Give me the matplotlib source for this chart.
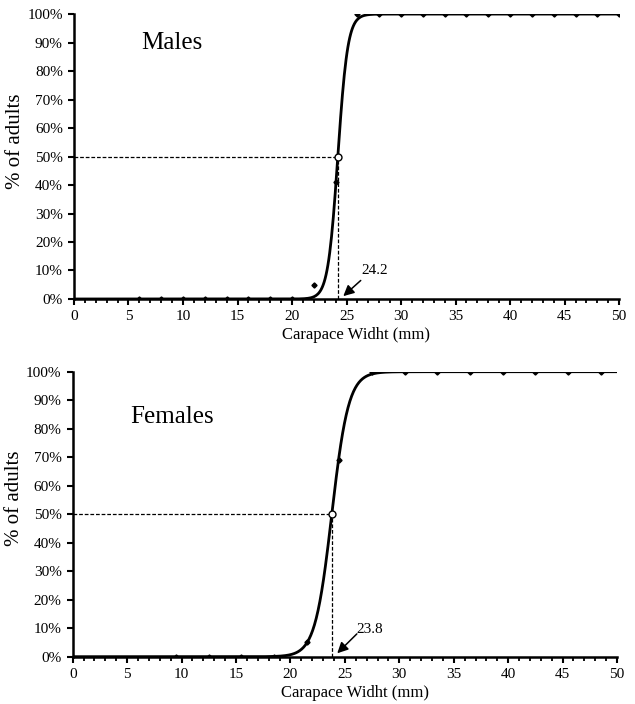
import numpy as np
import matplotlib.pyplot as plt
from matplotlib.ticker import MultipleLocator, PercentFormatter

plt.rcParams['font.family'] = ['Liberation Serif', 'DejaVu Serif']

# ---- data ----
male_x = [6, 8, 10, 12, 14, 16, 18, 20, 22, 24, 26, 28, 30, 32, 34, 36, 38, 40, 42, 44, 46, 48, 50]
male_y = [0, 0, 0, 0, 0, 0, 0, 0, 5, 41, 100, 100, 100, 100, 100, 100, 100, 100, 100, 100, 100, 100, 100]
male_l50 = 24.2
male_slope = 2.2

female_x = [9.5, 12.5, 15.5, 18.5, 21.5, 24.5, 27.5, 30.5, 33.5, 36.5, 39.5, 42.5, 45.5, 48.5]
female_y = [0, 0, 0, 0, 5, 69, 100, 100, 100, 100, 100, 100, 100, 100]
female_l50 = 23.8
female_slope = 1.3

panels = [
    ("Males", male_x, male_y, male_l50, male_slope, (9.0, 90), (27.6, 10), (26.3, 6.5), (24.7, 1)),
    ("Females", female_x, female_y, female_l50, female_slope, (9.1, 84), (27.3, 9.5), (26.1, 8.0), (24.3, 1.2)),
]

fig = plt.figure(figsize=(6.35, 7.04), dpi=100)
ax_top = fig.add_axes([0.1165, 0.5753, 0.8585, 0.4047])
ax_bot = fig.add_axes([0.1145, 0.0672, 0.8572, 0.4048])

for ax, (name, xs, ys, l50, slope, name_pos, txt_pos, tail, tip) in zip([ax_top, ax_bot], panels):
    # fitted logistic maturity curve
    xc = np.linspace(0, 50, 600)
    yc = 100 / (1 + np.exp(-slope * (xc - l50)))
    ax.plot(xc, yc, color='black', lw=2, zorder=3)
    ax.plot(xs, ys, linestyle='none', marker='D', ms=2.6, color='black', zorder=4)

    # L50 guide lines
    ax.plot([0, l50], [50, 50], color='black', lw=0.9, ls=(0, (3, 1.5)), zorder=2)
    ax.plot([l50, l50], [0, 50], color='black', lw=0.9, ls=(0, (3, 1.5)), zorder=2)
    ax.plot([l50], [50], marker='o', ms=5, mfc='white', mec='black', mew=1, zorder=5)

    ax.annotate("", xy=tip, xytext=tail,
                arrowprops=dict(arrowstyle='-|>', color='black', lw=1.1, mutation_scale=16,
                                shrinkA=0, shrinkB=0))
    ax.text(txt_pos[0], txt_pos[1], f"{l50}", ha='center', va='center', fontsize=11)
    ax.text(name_pos[0], name_pos[1], name, ha='center', va='center', fontsize=18)

    ax.set_xlim(0, 50)
    ax.set_ylim(0, 100)
    ax.xaxis.set_major_locator(MultipleLocator(5))
    ax.xaxis.set_minor_locator(MultipleLocator(1))
    ax.yaxis.set_major_locator(MultipleLocator(10))
    ax.yaxis.set_major_formatter(PercentFormatter(decimals=0))
    ax.tick_params(axis='both', which='major', direction='out', length=4, width=1.5,
                   labelsize=11, pad=4)
    ax.tick_params(axis='x', which='minor', direction='out', length=3, width=1.3)
    for s in ['top', 'right']:
        ax.spines[s].set_visible(False)
    for s in ['left', 'bottom']:
        ax.spines[s].set_linewidth(1.8)
    ax.set_xlabel("Carapace Widht (mm)", fontsize=12)
    ax.set_ylabel("% of adults", fontsize=15)
    ax.xaxis.set_label_coords(0.518, -0.1)
    ax.yaxis.set_label_coords(-0.09, 0.555)

fig.savefig("out.png", dpi=100)
